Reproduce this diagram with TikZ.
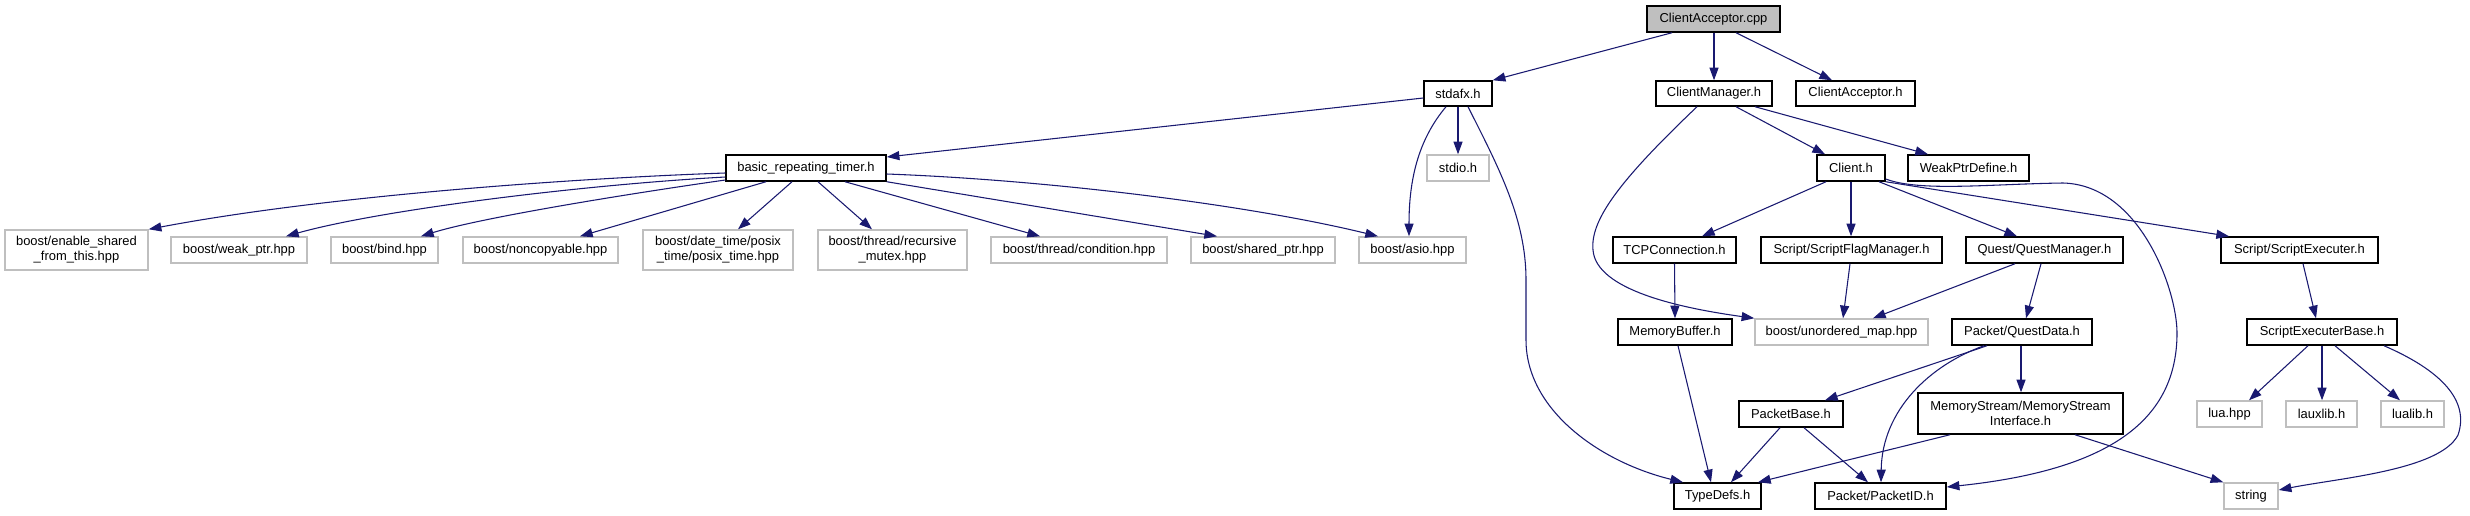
\documentclass[tikz,border=0pt]{standalone}
\usepackage{fontspec}
\setmainfont{Liberation Sans}
\usetikzlibrary{arrows.meta}
\definecolor{edgec}{HTML}{191970}
\definecolor{greyb}{HTML}{BFBFBF}
\begin{document}
\begin{tikzpicture}[x=0.75pt,y=-0.75pt,
  every node/.style={font=\fontsize{9.7}{11.3}\selectfont, inner sep=0pt, align=center},
  sz/.style 2 args={minimum width=#1*0.75pt, minimum height=#2*0.75pt},
  real/.style={draw=black, line width=1.1pt, rectangle, fill=white},
  miss/.style={draw=greyb, line width=1.1pt, rectangle, fill=white},
  edge/.style={draw=edgec, line width=0.8pt, -{Triangle[length=9.5pt,width=6.8pt]}}
]
\useasboundingbox (0,0) rectangle (2470,515);
% nodes
\node[real,fill=greyb,sz={133}{26}] (ca) at (1713.5,19) {ClientAcceptor.cpp};
\node[real,sz={68}{25}] (stdafx) at (1458,93.5) {stdafx.h};
\node[real,sz={116}{25}] (cm) at (1714,93.5) {ClientManager.h};
\node[real,sz={119}{25}] (cah) at (1855.5,93.5) {ClientAcceptor.h};
\node[real,sz={160}{26}] (brt) at (806,168) {basic\_repeating\_timer.h};
\node[miss,sz={62}{26}] (stdio) at (1458,168) {stdio.h};
\node[real,sz={68}{26}] (client) at (1851,168) {Client.h};
\node[real,sz={121}{26}] (weak) at (1968.5,168) {WeakPtrDefine.h};
\node[miss,sz={143}{40}] (esft) at (76.5,250) {boost/enable\_shared\\\_from\_this.hpp};
\node[miss,sz={136}{26}] (wp) at (239,250) {boost/weak\_ptr.hpp};
\node[miss,sz={107}{26}] (bind) at (384.5,250) {boost/bind.hpp};
\node[miss,sz={155}{26}] (nonc) at (540.5,250) {boost/noncopyable.hpp};
\node[miss,sz={150}{40}] (posix) at (718,250) {boost/date\_time/posix\\\_time/posix\_time.hpp};
\node[miss,sz={149}{40}] (rmutex) at (892.5,250) {boost/thread/recursive\\\_mutex.hpp};
\node[miss,sz={176}{26}] (cond) at (1079,250) {boost/thread/condition.hpp};
\node[miss,sz={144}{26}] (sptr) at (1263,250) {boost/shared\_ptr.hpp};
\node[miss,sz={107}{26}] (asio) at (1412.5,250) {boost/asio.hpp};
\node[real,sz={123}{26}] (tcp) at (1674.5,250) {TCPConnection.h};
\node[real,sz={181}{26}] (sfm) at (1851.5,250) {Script/ScriptFlagManager.h};
\node[real,sz={157}{26}] (qm) at (2044.5,250) {Quest/QuestManager.h};
\node[real,sz={157}{26}] (se) at (2299.5,250) {Script/ScriptExecuter.h};
\node[real,sz={114}{26}] (mb) at (1675,332) {MemoryBuffer.h};
\node[miss,sz={173}{26}] (umap) at (1841.5,332) {boost/unordered\_map.hpp};
\node[real,sz={140}{26}] (qd) at (2022,332) {Packet/QuestData.h};
\node[real,sz={150}{26}] (seb) at (2322,332) {ScriptExecuterBase.h};
\node[real,sz={104}{26}] (pb) at (1791,414) {PacketBase.h};
\node[real,sz={205}{41}] (msi) at (2020.5,413.5) {MemoryStream/MemoryStream\\Interface.h};
\node[miss,sz={65}{26}] (lua) at (2229.5,414) {lua.hpp};
\node[miss,sz={71}{26}] (lauxlib) at (2321.5,414) {lauxlib.h};
\node[miss,sz={63}{26}] (lualib) at (2412.5,414) {lualib.h};
\node[real,sz={87}{26}] (td) at (1717.5,496) {TypeDefs.h};
\node[real,sz={131}{26}] (pid) at (1880.5,496) {Packet/PacketID.h};
\node[miss,sz={54}{26}] (str) at (2251,496) {string};
% edges
\path[edge] (ca.south -| 1672,0) -- (stdafx.north east);
\path[edge] (ca.south -| 1714,0) -- (cm.north -| 1714,0);
\path[edge] (ca.south -| 1736,0) -- (cah.north -| 1832,0);
\path[edge] (stdafx.west |- 0,98) -- (brt.east |- 0,157);
\path[edge] (stdafx.south) -- (stdio.north);
\path[edge] (stdafx.south -| 1446,0) .. controls (1418,140) and (1409,180) .. (asio.north -| 1409,0);
\path[edge] (stdafx.south -| 1468,0) .. controls (1500,170) and (1526,220) .. (1526,280) -- (1526,340) .. controls (1526,410) and (1600,462) .. (td.north -| 1683,0);
\path[edge] (cm.south -| 1736,0) -- (client.north -| 1825,0);
\path[edge] (cm.south -| 1755,0) -- (weak.north -| 1928,0);
\path[edge] (cm.south -| 1697,0) .. controls (1620,180) and (1590,220) .. (1593,250) .. controls (1596,290) and (1680,308) .. (umap.north west);
\path[edge] (brt.west |- 0,173) .. controls (580,178) and (330,195) .. (esft.north east);
\path[edge] (brt.west |- 0,177) .. controls (580,185) and (380,210) .. (wp.north -| 286,0);
\path[edge] (brt.west |- 0,180) .. controls (620,195) and (480,218) .. (bind.north -| 421,0);
\path[edge] (brt.south -| 766,0) -- (nonc.north -| 580,0);
\path[edge] (brt.south -| 792,0) -- (posix.north -| 738,0);
\path[edge] (brt.south -| 818,0) -- (rmutex.north -| 872,0);
\path[edge] (brt.south -| 845,0) -- (cond.north -| 1040,0);
\path[edge] (brt.south east) -- (sptr.north -| 1217,0);
\path[edge] (brt.east |- 0,174) .. controls (1050,180) and (1250,205) .. (asio.north -| 1378,0);
\path[edge] (client.south -| 1826,0) -- (tcp.north -| 1702,0);
\path[edge] (client.south -| 1851,0) -- (sfm.north -| 1851,0);
\path[edge] (client.south -| 1879,0) -- (qm.north -| 2017,0);
\path[edge] (client.south east) -- (se.north -| 2229,0);
\path[edge] (client.east |- 0,179) .. controls (1920,192) and (1990,184) .. (2063,183) .. controls (2140,185) and (2177,290) .. (2177,333) .. controls (2177,420) and (2110,470) .. (pid.east |- 0,487);
\path[edge] (tcp.south) -- (mb.north);
\path[edge] (sfm.south -| 1850,0) -- (umap.north -| 1843,0);
\path[edge] (qm.south -| 2015,0) -- (umap.north -| 1873,0);
\path[edge] (qm.south -| 2041,0) -- (qd.north -| 2026,0);
\path[edge] (se.south -| 2303,0) -- (seb.north -| 2316,0);
\path[edge] (mb.south -| 1678,0) -- (td.north -| 1711,0);
\path[edge] (qd.south -| 1987,0) -- (pb.north -| 1825,0);
\path[edge] (qd.south -| 1984,0) .. controls (1930,365) and (1882,410) .. (pid.north -| 1881,0);
\path[edge] (qd.south -| 2021,0) -- (msi.north -| 2021,0);
\path[edge] (seb.south -| 2308,0) -- (lua.north -| 2249,0);
\path[edge] (seb.south -| 2322,0) -- (lauxlib.north -| 2322,0);
\path[edge] (seb.south -| 2335,0) -- (lualib.north -| 2400,0);
\path[edge] (seb.south -| 2384,0) .. controls (2440,370) and (2470,400) .. (2458,435) .. controls (2440,470) and (2340,478) .. (str.east |- 0,490);
\path[edge] (pb.south -| 1780,0) -- (td.north -| 1731,0);
\path[edge] (pb.south -| 1804,0) -- (pid.north -| 1868,0);
\path[edge] (msi.south -| 1950,0) -- (td.north -| 1758,0);
\path[edge] (msi.south -| 2075,0) -- (str.north west);
\end{tikzpicture}
\end{document}
